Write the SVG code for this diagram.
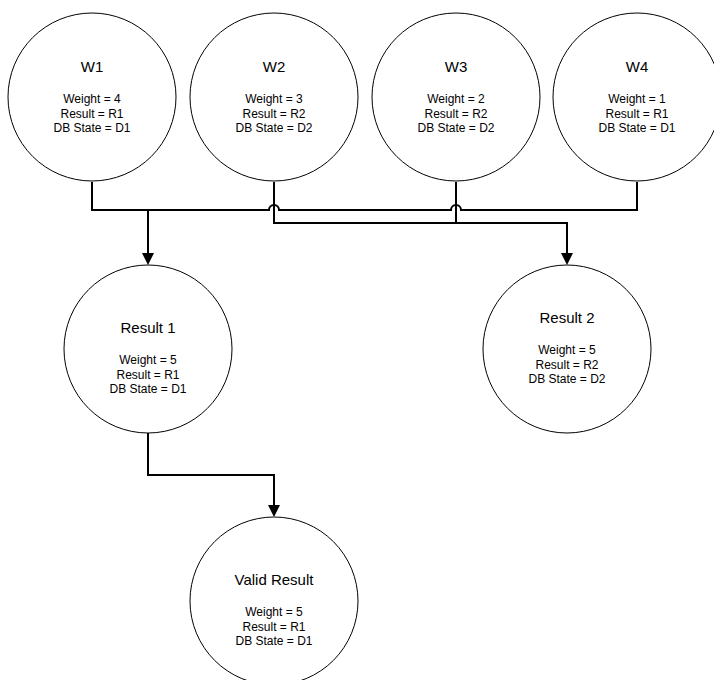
<svg xmlns="http://www.w3.org/2000/svg" width="714" height="680" viewBox="0 0 714 680">
  <style>
    .node { fill: #ffffff; stroke: #000000; stroke-width: 1; }
    .title { font-family: "Liberation Sans", Arial, sans-serif; font-size: 15px; fill: #000000; text-anchor: middle; }
    .info { font-family: "Liberation Sans", Arial, sans-serif; font-size: 12px; fill: #000000; text-anchor: middle; }
    .wire { fill: none; stroke: #000000; stroke-width: 2; }
  </style>
  <defs>
    <marker id="arrow" markerUnits="userSpaceOnUse" markerWidth="12" markerHeight="12" viewBox="0 0 12 12" refX="4" refY="6" orient="auto">
      <path d="M0,0 L12,6 L0,12 z" fill="#000000"/>
    </marker>
  </defs>
  <rect width="714" height="680" fill="#ffffff"/>

  <!-- connectors -->
  <g id="connectors">
    <!-- W1 and W4 feed the upper bus, hopping over the W2/W3 drops -->
    <path class="wire" d="M92,182 V210 H269 A5,5 0 0 1 279,210 H451 A5,5 0 0 1 461,210 H637 V182"/>
    <path class="wire" d="M148,210 V257" marker-end="url(#arrow)"/>
    <!-- W2 and W3 feed the lower bus -->
    <path class="wire" d="M274,182 V223 H567 V257" marker-end="url(#arrow)"/>
    <path class="wire" d="M456,182 V223"/>
    <!-- Result 1 to Valid Result -->
    <path class="wire" d="M148,433 V475 H274 V509" marker-end="url(#arrow)"/>
  </g>

  <g id="w1">
    <circle class="node" cx="92" cy="97" r="84"/>
    <text class="title" x="92" y="72">W1</text>
    <text class="info" x="92" y="103">Weight = 4</text>
    <text class="info" x="92" y="117.5">Result = R1</text>
    <text class="info" x="92" y="132">DB State = D1</text>
  </g>
  <g id="w2">
    <circle class="node" cx="274" cy="97" r="84"/>
    <text class="title" x="274" y="72">W2</text>
    <text class="info" x="274" y="103">Weight = 3</text>
    <text class="info" x="274" y="117.5">Result = R2</text>
    <text class="info" x="274" y="132">DB State = D2</text>
  </g>
  <g id="w3">
    <circle class="node" cx="456" cy="97" r="84"/>
    <text class="title" x="456" y="72">W3</text>
    <text class="info" x="456" y="103">Weight = 2</text>
    <text class="info" x="456" y="117.5">Result = R2</text>
    <text class="info" x="456" y="132">DB State = D2</text>
  </g>
  <g id="w4">
    <circle class="node" cx="637" cy="97" r="84"/>
    <text class="title" x="637" y="72">W4</text>
    <text class="info" x="637" y="103">Weight = 1</text>
    <text class="info" x="637" y="117.5">Result = R1</text>
    <text class="info" x="637" y="132">DB State = D1</text>
  </g>
  <g id="result1">
    <circle class="node" cx="148" cy="349" r="84"/>
    <text class="title" x="148" y="333">Result 1</text>
    <text class="info" x="148" y="364">Weight = 5</text>
    <text class="info" x="148" y="378.5">Result = R1</text>
    <text class="info" x="148" y="393">DB State = D1</text>
  </g>
  <g id="result2">
    <circle class="node" cx="567" cy="349" r="84"/>
    <text class="title" x="567" y="323">Result 2</text>
    <text class="info" x="567" y="354">Weight = 5</text>
    <text class="info" x="567" y="368.5">Result = R2</text>
    <text class="info" x="567" y="383">DB State = D2</text>
  </g>
  <g id="valid-result">
    <circle class="node" cx="274" cy="601" r="84"/>
    <text class="title" x="274" y="585">Valid Result</text>
    <text class="info" x="274" y="616">Weight = 5</text>
    <text class="info" x="274" y="630.5">Result = R1</text>
    <text class="info" x="274" y="645">DB State = D1</text>
  </g>
</svg>
